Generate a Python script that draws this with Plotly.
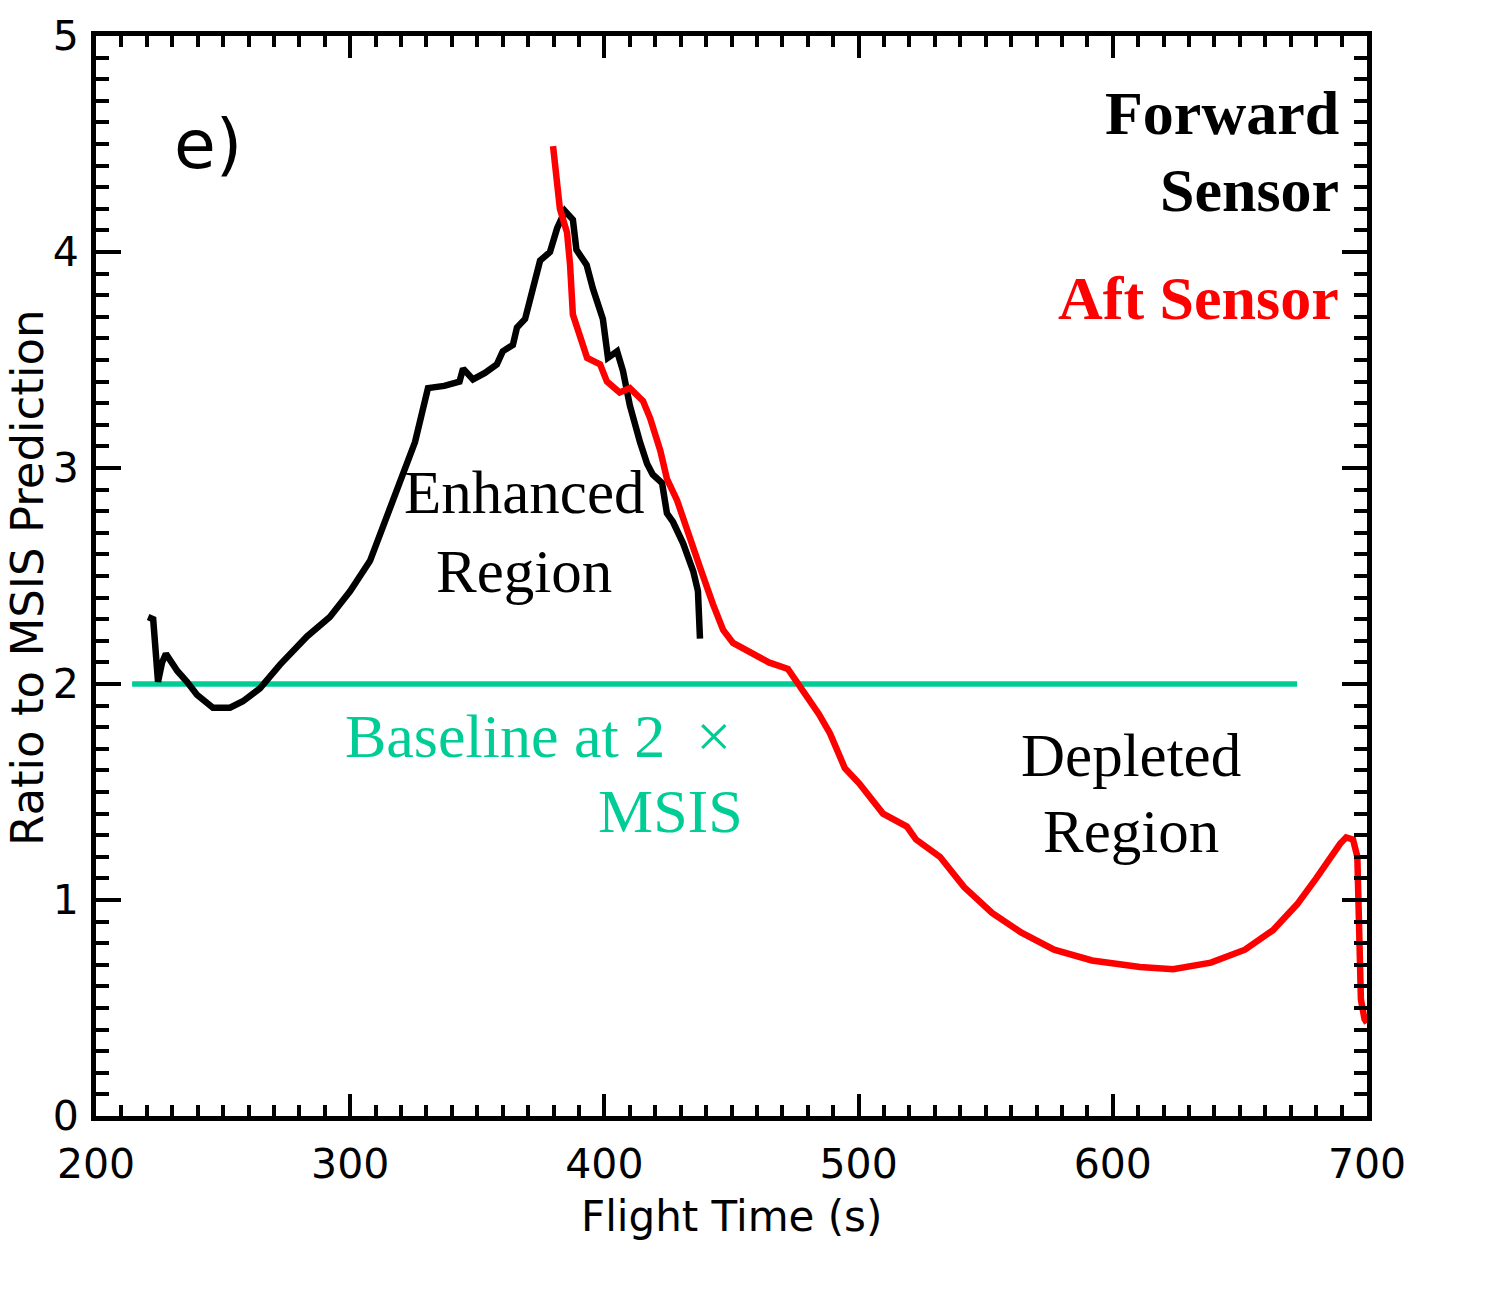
import plotly.graph_objects as go

# Forward sensor (black)
fwd_t = [220.5, 222.5, 224.4, 226, 227.5, 229.5, 232, 235.8, 239.7, 246, 252.7, 257.8, 264.5, 272.4,
         283, 292, 300, 307.8, 313.7, 319.6, 325.5, 330.6, 337, 343, 344.4, 348.3, 353, 357.7, 360,
         364, 365.6, 368.8, 372, 374.7, 378.6, 381.4, 384.5, 387.6, 389, 393, 395.5, 399.4, 401.4,
         405, 407.3, 410, 414, 416.8, 419, 422.7, 424.6, 427, 431, 435, 436.8, 437.6]
fwd_r = [2.31, 2.30, 2.01, 2.10, 2.14, 2.10, 2.06, 2.01, 1.95, 1.89, 1.89, 1.92, 1.98, 2.09,
         2.22, 2.31, 2.43, 2.57, 2.75, 2.94, 3.12, 3.37, 3.38, 3.40, 3.46, 3.41, 3.44, 3.48, 3.54,
         3.57, 3.65, 3.69, 3.85, 3.96, 4.00, 4.11, 4.19, 4.15, 4.01, 3.94, 3.83, 3.69, 3.51,
         3.54, 3.45, 3.29, 3.12, 3.02, 2.97, 2.93, 2.79, 2.75, 2.65, 2.52, 2.43, 2.21]

# Aft sensor (red)
aft_t = [379.8, 381.4, 382.5, 385.3, 386.5, 387.6, 390.4, 393.2, 398.3, 401, 406, 410, 415.2, 418,
         422, 424.6, 428.6, 432.5, 437.6, 442.7, 446.7, 450.6, 458.9, 464.7, 472.2, 475.8, 479.7,
         484.4, 488.8, 494.6, 500.2, 505.7, 509.6, 519, 522.6, 532, 541.5, 552.5, 563.9, 576.9,
         591.8, 610.7, 623.7, 638.6, 652, 663, 672.5, 680, 685.4, 689.4, 691.8, 694.5, 696.2,
         696.5, 697, 697.6, 699, 700]
aft_r = [4.49, 4.33, 4.20, 4.09, 3.94, 3.71, 3.60, 3.51, 3.48, 3.40, 3.35, 3.37, 3.31, 3.23,
         3.08, 2.95, 2.85, 2.71, 2.54, 2.37, 2.25, 2.19, 2.14, 2.10, 2.07, 2.01, 1.95,
         1.86, 1.77, 1.61, 1.54, 1.46, 1.40, 1.34, 1.28, 1.20, 1.06, 0.94, 0.85, 0.77,
         0.72, 0.69, 0.68, 0.71, 0.77, 0.86, 0.98, 1.10, 1.20, 1.26, 1.29, 1.28, 1.20,
         1.00, 0.80, 0.54, 0.45, 0.43]

# Baseline at 2 x MSIS
base_t = [214.2, 672.5]
base_r = [2, 2]

x_ticks = [200, 300, 400, 500, 600, 700]
y_ticks = [0, 1, 2, 3, 4, 5]

TEAL = "#00CC96"
SERIF = "Liberation Serif"
SANS = "DejaVu Sans"

fig = go.Figure()
fig.add_trace(go.Scatter(x=base_t, y=base_r, mode="lines",
                         line=dict(color=TEAL, width=5.5), showlegend=False))
fig.add_trace(go.Scatter(x=fwd_t, y=fwd_r, mode="lines",
                         line=dict(color="black", width=6.5), showlegend=False))
fig.add_trace(go.Scatter(x=aft_t, y=aft_r, mode="lines",
                         line=dict(color="#FF0000", width=6.5), showlegend=False))

axis_common = dict(showline=True, linecolor="black", linewidth=5, mirror="ticks",
                   ticks="inside", tickcolor="black", tickwidth=4,
                   showgrid=False, zeroline=False,
                   tickfont=dict(family=SANS, size=41, color="black"))

fig.update_xaxes(range=[200, 700], tickvals=x_ticks, ticktext=[str(v) for v in x_ticks],
                 ticklen=22, ticklabelstandoff=8,
                 minor=dict(ticks="inside", dtick=10, ticklen=11, tickwidth=4, tickcolor="black"),
                 **axis_common)
fig.update_yaxes(range=[0, 5], tickvals=y_ticks, ticktext=[str(v) for v in y_ticks],
                 ticklen=25, ticklabelstandoff=4,
                 minor=dict(ticks="inside", dtick=0.1, ticklen=13, tickwidth=4, tickcolor="black"),
                 **axis_common)

annotations = [
    dict(text="Flight Time (s)", xref="paper", yref="paper", x=0.5, y=-0.0933,
         xanchor="center", yanchor="middle", font=dict(family=SANS, size=42, color="black")),
    dict(text="Ratio to MSIS Prediction", xref="paper", yref="paper", x=-0.0545, y=0.498,
         textangle=-90, xanchor="center", yanchor="middle",
         font=dict(family=SANS, size=45, color="black")),
    dict(text="e)", x=244, y=4.496, xanchor="center", yanchor="middle",
         font=dict(family=SANS, size=68, color="black")),
    dict(text="<b>Forward</b>", x=689.6, y=4.644, xanchor="right", yanchor="middle",
         font=dict(family=SERIF, size=62, color="black")),
    dict(text="<b>Sensor</b>", x=689.6, y=4.288, xanchor="right", yanchor="middle",
         font=dict(family=SERIF, size=62, color="black")),
    dict(text="<b>Aft Sensor</b>", x=689.6, y=3.789, xanchor="right", yanchor="middle",
         font=dict(family=SERIF, size=62, color="#FF0000")),
    dict(text="Enhanced", x=368.4, y=2.888, xanchor="center", yanchor="middle",
         font=dict(family=SERIF, size=61, color="black")),
    dict(text="Region", x=368.4, y=2.523, xanchor="center", yanchor="middle",
         font=dict(family=SERIF, size=61, color="black")),
    dict(text="Baseline at 2\u00a0 \u00d7", x=450.6, y=1.761, xanchor="right", yanchor="middle",
         font=dict(family=SERIF, size=62, color=TEAL)),
    dict(text="MSIS", x=455.5, y=1.414, xanchor="right", yanchor="middle",
         font=dict(family=SERIF, size=62, color=TEAL)),
    dict(text="Depleted", x=607.0, y=1.668, xanchor="center", yanchor="middle",
         font=dict(family=SERIF, size=61, color="black")),
    dict(text="Region", x=607.0, y=1.317, xanchor="center", yanchor="middle",
         font=dict(family=SERIF, size=61, color="black")),
]
for a in annotations:
    a.setdefault("xref", "x")
    a.setdefault("yref", "y")
    a["showarrow"] = False

fig.update_layout(width=1486, height=1289,
                  margin=dict(l=96, r=119, t=34, b=173),
                  paper_bgcolor="white", plot_bgcolor="white",
                  annotations=annotations, showlegend=False)

fig.write_html("out.html")
